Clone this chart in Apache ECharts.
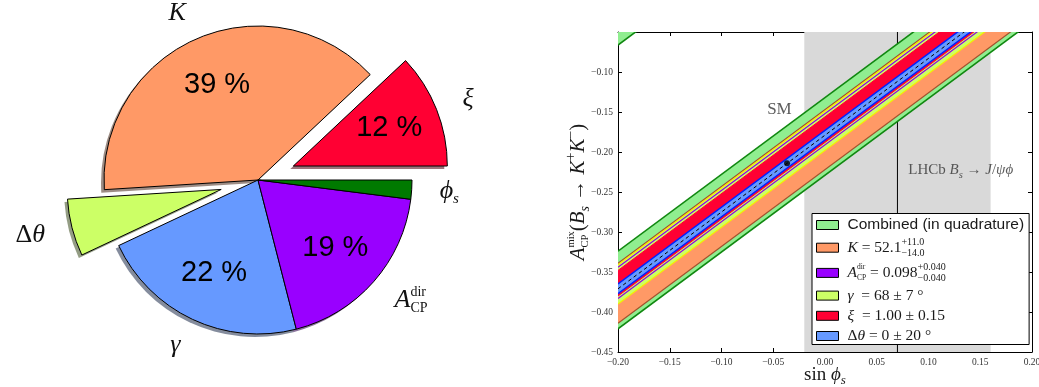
<!DOCTYPE html>
<html>
<head>
<meta charset="utf-8">
<script src="https://cdn.jsdelivr.net/npm/echarts@6/dist/echarts.min.js"></script>
<style>
  html, body { margin: 0; padding: 0; background: #fff; }
  #chart { width: 1039px; height: 387px; }
</style>
</head>
<body>
<div id="chart"></div>
<script>
// ---------------- data: share of the total uncertainty (pie) ----------------
const pieKeys = ['xi', 'K', 'dtheta', 'gamma', 'adir', 'phis'];
const pieShares = [12, 39, 6, 22, 19, 2];
const pieExploded = [true, false, true, false, false, false];

// ---------------- data: A_CP^mix(Bs -> K+K-) versus sin(phi_s) ----------------
// each edge is given by its value at the two ends of the sin(phi_s) range
const xEnds = [-0.20, 0.20];
const bandKeys = ['combined', 'K', 'adir', 'gamma', 'xi', 'dtheta'];
const bandUpper = [[-0.324, 0.060], [-0.339, 0.045], [-0.344, 0.040], [-0.341, 0.043], [-0.348, 0.036], [-0.365, 0.019]];
const bandLower = [[-0.421, -0.037], [-0.414, -0.030], [-0.383, 0.001], [-0.390, -0.006], [-0.380, 0.004], [-0.377, 0.007]];
const centralLine = [-0.371, 0.013];
// second branch of the combined band (only its lower corner enters the plot)
const combinedBranchLower = [-0.0663, 0.3177];
const combinedBranchUpper = [0.030, 0.414];
const smPoint = [-0.0367, -0.214];
const lhcbCentral = 0.07;
const lhcbRange = [-0.02, 0.16];
const xRange = [-0.20, 0.20];
const yRange = [-0.45, -0.05];
const tickStep = 0.05;
const annotationPos = { sm: [-0.0564, -0.147], lhcb: [0.080, -0.223] };

// ---------------- styles ----------------
const serif = "'Liberation Serif', 'DejaVu Serif', serif";
const sans = "'Liberation Sans', Arial, sans-serif";
const pieColors = { xi: '#ff0033', K: '#ff9966', dtheta: '#ccff66', gamma: '#6699ff', adir: '#9900ff', phis: '#007a00' };
const bandFill = { combined: '#90ee90', K: '#ff9966', adir: '#9900ff', gamma: '#ccff66', xi: '#ff0033', dtheta: '#6699ff' };
const bandEdge = {
  combined: ['#118811', 1.6], K: ['#a0522d', 1.2], adir: ['#8a00e6', 1.2],
  gamma: ['#f2f200', 1.2], xi: ['#ff0033', 1], dtheta: ['#0022ff', 1.5]
};

// ---------------- small math-text layout on top of ECharts rich text ----------------
const measureCtx = document.createElement('canvas').getContext('2d');
function fontOf(st) {
  return [st.fontStyle || 'normal', st.fontWeight || 'normal', st.fontSize + 'px', st.fontFamily].join(' ');
}
function widthOf(text, st) {
  measureCtx.font = fontOf(st);
  return measureCtx.measureText(text).width;
}
function mathStyles(base, script, tiny, color) {
  return {
    rm: { fontFamily: serif, fontSize: base, fontStyle: 'normal', color },
    it: { fontFamily: serif, fontSize: base, fontStyle: 'italic', color },
    srm: { fontFamily: serif, fontSize: script, fontStyle: 'normal', color },
    sit: { fontFamily: serif, fontSize: script, fontStyle: 'italic', color },
    tiny: { fontFamily: serif, fontSize: tiny, fontStyle: 'normal', color },
    sans: { fontFamily: sans, fontSize: base, fontStyle: 'normal', color }
  };
}
let richSeq = 0;
// segments: [{b: [[style, text]...], sup: [...], sub: [...]}]; lineH: [sup, base, sub] line heights
function buildMath(segs, styles, lineH) {
  const key = 'm' + (richSeq++);
  const rich = {};
  const scripted = segs.some(s => (s.sup && s.sup.length) || (s.sub && s.sub.length));
  const heights = scripted ? lineH : [lineH[0] + lineH[1] + lineH[2]];
  const lines = heights.map(() => ({ parts: [], pending: 0 }));
  let sp = 0;
  const styleId = (name, li) => {
    const id = key + '_' + name + '_' + li;
    if (!rich[id]) rich[id] = Object.assign({}, styles[name], { lineHeight: heights[li] });
    return id;
  };
  const spacer = (li, w) => {
    const id = key + '_sp' + (sp++);
    rich[id] = { width: w, lineHeight: heights[li], fontSize: 1 };
    return '{' + id + '| }';
  };
  const flush = li => {
    const L = lines[li];
    if (L.pending > 0.01) { L.parts.push(spacer(li, L.pending)); L.pending = 0; }
  };
  const put = (li, tokens) => {
    let w = 0;
    (tokens || []).forEach(([s, t]) => {
      flush(li);
      lines[li].parts.push('{' + styleId(s, li) + '|' + t + '}');
      w += widthOf(t, styles[s]);
    });
    return w;
  };
  const baseLi = scripted ? 1 : 0;
  segs.forEach(seg => {
    const wb = put(baseLi, seg.b);
    if (!scripted) return;
    lines[0].pending += wb;
    lines[2].pending += wb;
    const ws = put(0, seg.sup);
    const wsub = put(2, seg.sub);
    const wsc = Math.max(ws, wsub);
    lines[0].pending += wsc - ws;
    lines[2].pending += wsc - wsub;
    lines[1].pending += wsc;
  });
  // every line ends at the same width so that any alignment keeps them in register
  lines.forEach((L, li) => { flush(li); if (!L.parts.length) L.parts.push(spacer(li, 1)); });
  return { text: lines.map(L => L.parts.join('')).join('\n'), rich };
}

// ---------------- texts ----------------
const pieLabelSegs = {
  xi: [{ b: [['it', 'ξ']] }],
  K: [{ b: [['it', 'K']] }],
  dtheta: [{ b: [['rm', 'Δ'], ['it', 'θ']] }],
  gamma: [{ b: [['it', 'γ']] }],
  adir: [{ b: [['it', 'A']], sup: [['tiny', 'dir']], sub: [['tiny', 'CP']] }],
  phis: [{ b: [['it', 'ϕ']], sub: [['sit', 's']] }]
};
const legendSegs = {
  combined: [{ b: [['sans', 'Combined (in quadrature)']] }],
  K: [{ b: [['it', 'K'], ['rm', ' = 52.1']], sup: [['srm', '+11.0']], sub: [['srm', '−14.0']] }],
  adir: [{ b: [['it', 'A']], sup: [['tiny', 'dir']], sub: [['tiny', 'CP']] },
         { b: [['rm', ' = 0.098']], sup: [['srm', '+0.040']], sub: [['srm', '−0.040']] }],
  gamma: [{ b: [['it', 'γ'], ['rm', '  = 68 ± 7 °']] }],
  xi: [{ b: [['it', 'ξ'], ['rm', '  = 1.00 ± 0.15']] }],
  dtheta: [{ b: [['rm', 'Δ'], ['it', 'θ'], ['rm', ' = 0 ± 20 °']] }]
};
const yNameSegs = [
  { b: [['it', 'A']], sup: [['tiny', 'mix']], sub: [['tiny', 'CP']] },
  { b: [['rm', '('], ['it', 'B']], sub: [['sit', 's']] },
  { b: [['rm', ' → '], ['it', 'K']], sup: [['srm', '+']] },
  { b: [['it', 'K']], sup: [['srm', '−']] },
  { b: [['rm', ')']] }
];
const xNameSegs = [{ b: [['rm', 'sin '], ['it', 'ϕ']], sub: [['sit', 's']] }];
const lhcbSegs = [
  { b: [['rm', 'LHCb '], ['it', 'B']], sub: [['sit', 's']] },
  { b: [['rm', ' → '], ['it', 'J'], ['rm', '/'], ['it', 'ψϕ']] }
];

const pieStyles = mathStyles(26, 15, 14, '#111');
const pieLabels = {};
const pieRich = {};
pieKeys.forEach(k => {
  const m = buildMath(pieLabelSegs[k], pieStyles, [12, 4, 12]);
  pieLabels[k] = m.text;
  Object.assign(pieRich, m.rich);
});

const legendStyles = mathStyles(15.5, 10, 7.5, '#1a1a1a');
const legendLabels = {};
const legendRich = {};
bandKeys.forEach(k => {
  const m = buildMath(legendSegs[k], legendStyles, [10, 1, 10]);
  legendLabels[k] = m.text;
  Object.assign(legendRich, m.rich);
});

const yName = buildMath(yNameSegs, mathStyles(21, 14, 10.5, '#1a1a1a'), [10, 4, 10]);
const xName = buildMath(xNameSegs, mathStyles(19, 13, 10, '#1a1a1a'), [9, 2, 9]);
const lhcbText = buildMath(lhcbSegs, mathStyles(15, 10.5, 8, '#333'), [8, 2, 8]);

// ---------------- chart ----------------
function shadeOf(hex) {
  const v = parseInt(hex.slice(1), 16);
  const r = ((v >> 16) & 255) * 0.3, g = ((v >> 8) & 255) * 0.3, b = (v & 255) * 0.3;
  return 'rgba(' + Math.round(r) + ',' + Math.round(g) + ',' + Math.round(b) + ',0.55)';
}
const pieR = 154;
const pieCenter = [258, 180];
function pieData(colorOf) {
  return pieKeys.map((k, i) => ({ name: k, value: pieShares[i], selected: pieExploded[i], itemStyle: { color: colorOf(k) } }));
}
const pieCommon = {
  type: 'pie', startAngle: 0, clockwise: false, selectedMode: 'multiple', selectedOffset: 38,
  avoidLabelOverlap: false, silent: true, animation: false, emphasis: { disabled: true }
};

function fmtTick(v) {
  const r = Math.round(v * 100) / 100;
  return (r === 0 ? 0 : r).toFixed(2).replace('-', '−');
}

function bandRenderer(params, api) {
  const a = api.coord([api.value(0), api.value(2)]);
  const b = api.coord([api.value(1), api.value(3)]);
  const c = api.coord([api.value(1), api.value(5)]);
  const d = api.coord([api.value(0), api.value(4)]);
  return { type: 'polygon', shape: { points: [a, b, c, d] }, style: { fill: api.visual('color'), stroke: null } };
}
function edgeRenderer(color, width, dash) {
  return (params, api) => {
    const p0 = api.coord([api.value(0), api.value(2)]);
    const p1 = api.coord([api.value(1), api.value(3)]);
    return { type: 'line', shape: { x1: p0[0], y1: p0[1], x2: p1[0], y2: p1[1] },
      style: { stroke: color, lineWidth: width, lineDash: dash || null, fill: null } };
  };
}

const bandSeries = bandKeys.map((k, i) => {
  const rows = [[xEnds[0], xEnds[1], bandLower[i][0], bandLower[i][1], bandUpper[i][0], bandUpper[i][1]]];
  if (k === 'combined') rows.push([xEnds[0], xEnds[1], combinedBranchLower[0], combinedBranchLower[1], combinedBranchUpper[0], combinedBranchUpper[1]]);
  return {
    type: 'custom', name: k, clip: true, silent: true, animation: false, z: 2,
    itemStyle: { color: bandFill[k] },
    encode: { x: [0, 1], y: [2, 3, 4, 5] },
    data: rows, renderItem: bandRenderer
  };
});
const edgeSeries = bandKeys.map((k, i) => {
  const rows = [[xEnds[0], xEnds[1], bandLower[i][0], bandLower[i][1]], [xEnds[0], xEnds[1], bandUpper[i][0], bandUpper[i][1]]];
  if (k === 'combined') {
    rows.push([xEnds[0], xEnds[1], combinedBranchLower[0], combinedBranchLower[1]]);
    rows.push([xEnds[0], xEnds[1], combinedBranchUpper[0], combinedBranchUpper[1]]);
  }
  return {
    type: 'custom', clip: true, silent: true, animation: false, z: 3,
    encode: { x: [0, 1], y: [2, 3] }, data: rows,
    renderItem: edgeRenderer(bandEdge[k][0], bandEdge[k][1])
  };
});

const axisLineStyle = { color: '#000', width: 1 };
const tickStyle = { inside: true, length: 4, lineStyle: { color: '#000', width: 1 } };

const option = {
  animation: false,
  grid: { left: 618, right: 7, top: 32, bottom: 35, outerBoundsMode: 'none' },
  xAxis: [
    { type: 'value', min: xRange[0], max: xRange[1], interval: tickStep, position: 'bottom',
      axisLine: { onZero: false, lineStyle: axisLineStyle }, axisTick: tickStyle, splitLine: { show: false },
      axisLabel: { formatter: fmtTick, fontFamily: serif, fontSize: 9.5, color: '#333', margin: 5 },
      name: xName.text, nameLocation: 'middle', nameGap: 13, nameMoveOverlap: false,
      nameTextStyle: { rich: xName.rich } },
    { type: 'value', min: xRange[0], max: xRange[1], interval: tickStep, position: 'top',
      axisLine: { onZero: false, lineStyle: axisLineStyle }, axisTick: tickStyle, splitLine: { show: false },
      axisLabel: { show: false } }
  ],
  yAxis: [
    { type: 'value', min: yRange[0], max: yRange[1], interval: tickStep, position: 'left',
      axisLine: { onZero: false, lineStyle: axisLineStyle }, axisTick: tickStyle, splitLine: { show: false },
      axisLabel: { formatter: v => (Math.abs(v - yRange[1]) < 1e-9 ? '' : fmtTick(v)), fontFamily: serif, fontSize: 9.5, color: '#333', margin: 5 },
      name: yName.text, nameLocation: 'middle', nameRotate: 90, nameGap: 28, nameMoveOverlap: false,
      nameTextStyle: { rich: yName.rich } },
    { type: 'value', min: yRange[0], max: yRange[1], interval: tickStep, position: 'right',
      axisLine: { onZero: false, lineStyle: axisLineStyle }, axisTick: tickStyle, splitLine: { show: false },
      axisLabel: { show: false } }
  ],
  legend: {
    orient: 'vertical', left: 812, top: 213.5, data: bandKeys, icon: 'rect',
    itemWidth: 22, itemHeight: 9, itemGap: 4.2, padding: [3.5, 5, 0.5, 4],
    backgroundColor: '#fff', borderColor: '#000', borderWidth: 1, borderRadius: 0,
    selectedMode: false, itemStyle: { borderColor: '#000', borderWidth: 1 },
    formatter: name => legendLabels[name],
    textStyle: { padding: [0, 0, 0, 4], rich: legendRich }
  },
  series: [
    // LHCb Bs -> J/psi phi measurement: 1 sigma interval, under the bands
    { type: 'line', data: [], z: 1, silent: true,
      markArea: { silent: true, itemStyle: { color: '#d9d9d9' }, data: [[{ xAxis: lhcbRange[0] }, { xAxis: lhcbRange[1] }]] } },
    // LHCb central value, also under the bands
    { type: 'custom', clip: true, silent: true, animation: false, z: 1,
      encode: { x: [0, 1], y: [2, 3] }, data: [[lhcbCentral, lhcbCentral, yRange[0], yRange[1]]],
      renderItem: edgeRenderer('#000', 1) },
    ...bandSeries,
    ...edgeSeries,
    { type: 'custom', clip: true, silent: true, animation: false, z: 3,
      encode: { x: [0, 1], y: [2, 3] }, data: [[xEnds[0], xEnds[1], centralLine[0], centralLine[1]]],
      renderItem: edgeRenderer('#000', 1, [3.5, 3]) },
    { type: 'scatter', silent: true, z: 5, symbolSize: 6, itemStyle: { color: '#000' }, data: [smPoint] },
    { type: 'scatter', silent: true, z: 5, symbolSize: 1, itemStyle: { color: 'rgba(0,0,0,0)' },
      label: { show: true, position: 'right', distance: 0 },
      data: [
        { value: annotationPos.sm, label: { formatter: 'SM', fontFamily: serif, fontSize: 17, color: '#333' } },
        { value: annotationPos.lhcb, label: { formatter: lhcbText.text, rich: lhcbText.rich } }
      ] },
    // pie: drop shadow, wedges with outer labels, percentage labels
    Object.assign({}, pieCommon, {
      center: [pieCenter[0] - 3, pieCenter[1] + 3], radius: [0, pieR],
      label: { show: false }, labelLine: { show: false },
      itemStyle: { borderWidth: 0 }, select: { itemStyle: { borderWidth: 0 } },
      data: pieData(k => shadeOf(pieColors[k]))
    }),
    Object.assign({}, pieCommon, {
      center: pieCenter, radius: [0, pieR],
      itemStyle: { borderColor: '#000', borderWidth: 1 }, select: { itemStyle: { borderColor: '#000', borderWidth: 1 } },
      label: { show: true, position: 'outside', distanceToLabelLine: 0, formatter: p => pieLabels[p.name], rich: pieRich },
      labelLine: { show: false, length: 28, length2: 0 },
      data: pieData(k => pieColors[k])
    }),
    Object.assign({}, pieCommon, {
      center: pieCenter, radius: [pieR * 0.3, pieR],
      itemStyle: { color: 'rgba(0,0,0,0)', borderWidth: 0 }, select: { itemStyle: { borderWidth: 0 } },
      label: { show: true, position: 'inside', formatter: p => (p.value >= 10 ? p.value + ' %' : ''),
        fontFamily: sans, fontSize: 29, color: '#000' },
      labelLine: { show: false },
      data: pieData(() => 'rgba(0,0,0,0)')
    })
  ]
};

const chart = echarts.init(document.getElementById('chart'));
chart.setOption(option);
</script>
</body>
</html>
